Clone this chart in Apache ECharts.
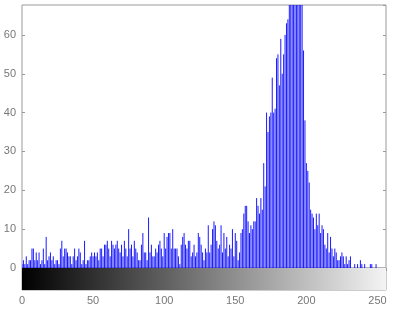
<!DOCTYPE html>
<html>
<head>
<meta charset="utf-8">
<script src="https://cdn.jsdelivr.net/npm/echarts@6/dist/echarts.min.js"></script>
<style>
  html, body { margin: 0; padding: 0; background: #fff; }
  #chart { width: 393px; height: 310px; }
</style>
</head>
<body>
<div id="chart"></div>
<script>
// pixel counts for gray levels 0..255
const counts = [
  1, 2, 1, 3, 1, 2, 2, 5, 5, 2, 4, 2, 4, 1, 2, 5,
  1, 8, 2, 3, 4, 2, 3, 1, 2, 2, 1, 5, 7, 3, 5, 5,
  4, 3, 3, 1, 3, 5, 2, 3, 5, 4, 1, 2, 7, 1, 2, 2,
  3, 4, 3, 4, 3, 4, 2, 5, 5, 3, 6, 6, 7, 5, 3, 7,
  6, 5, 6, 7, 5, 4, 6, 3, 7, 5, 3, 10, 5, 6, 3, 7,
  5, 4, 2, 2, 6, 9, 4, 4, 2, 13, 4, 6, 3, 3, 5, 4,
  6, 7, 5, 3, 9, 5, 8, 9, 9, 5, 10, 5, 5, 5, 3, 1,
  6, 8, 9, 6, 5, 7, 7, 3, 4, 6, 3, 4, 9, 8, 6, 4,
  2, 5, 4, 11, 4, 6, 10, 12, 11, 7, 5, 6, 11, 4, 9, 5,
  8, 3, 6, 5, 10, 3, 9, 7, 2, 4, 9, 10, 14, 16, 16, 12,
  9, 11, 10, 12, 12, 18, 16, 14, 18, 15, 27, 21, 40, 35, 39, 40,
  49, 40, 41, 54, 55, 47, 59, 50, 55, 60, 63, 64, 72, 80, 88, 76,
  95, 84, 78, 90, 74, 70, 56, 38, 27, 25, 22, 15, 14, 13, 10, 14,
  11, 14, 9, 11, 10, 6, 5, 9, 4, 8, 5, 3, 5, 4, 2, 2,
  3, 4, 3, 1, 3, 1, 2, 3, 0, 0, 1, 0, 1, 0, 2, 1,
  0, 1, 0, 0, 0, 1, 1, 0, 0, 1, 0, 0, 0, 0, 0, 0
];
const yTop = 67.7;   // histogram axis upper limit (tall bars are clipped)
const xMax = 256;

const chart = echarts.init(document.getElementById("chart"));

const labelStyle = { color: "#777", fontSize: 11, fontFamily: "Liberation Sans, Arial, sans-serif" };
const boxColor = "#9a9a9a";

const option = {
  animation: false,
  backgroundColor: "#fff",
  grid: [
    { left: 22, right: 7, top: 5, height: 263, show: true, borderColor: boxColor, borderWidth: 1, backgroundColor: "#fff" },
    { left: 22, right: 7, top: 268, height: 22, show: true, borderColor: boxColor, borderWidth: 1 },
  ],
  xAxis: [
    // top of histogram box, ticks only
    {
      gridIndex: 0, type: "value", min: 0, max: xMax, interval: 50, position: "top",
      axisLine: { show: false },
      axisTick: { show: true, inside: true, length: 3, lineStyle: { color: boxColor } },
      axisLabel: { show: false },
      splitLine: { show: false },
    },
    // colorbar axis with labels
    {
      gridIndex: 1, type: "value", min: 0, max: xMax, interval: 50, position: "bottom",
      axisLine: { show: false },
      axisTick: { show: true, inside: true, length: 3, lineStyle: { color: boxColor } },
      axisLabel: Object.assign({ margin: 5, showMaxLabel: false }, labelStyle),
      splitLine: { show: false },
    },
  ],
  yAxis: [
    {
      gridIndex: 0, type: "value", min: 0, max: yTop, interval: 10, position: "left",
      axisLine: { show: false },
      axisTick: { show: true, inside: true, length: 3, lineStyle: { color: boxColor } },
      axisLabel: Object.assign({ margin: 6, showMaxLabel: false }, labelStyle),
      splitLine: { show: false },
    },
    {
      gridIndex: 0, type: "value", min: 0, max: yTop, interval: 10, position: "right",
      axisLine: { show: false },
      axisTick: { show: true, inside: true, length: 3, lineStyle: { color: boxColor } },
      axisLabel: { show: false },
      splitLine: { show: false },
    },
    {
      gridIndex: 1, type: "value", min: 0, max: 1, show: false,
    },
  ],
  series: [
    {
      // stem lines, one per gray level
      type: "custom",
      xAxisIndex: 0,
      yAxisIndex: 0,
      clip: true,
      data: counts.map((v, i) => [i, v]),
      renderItem: (params, api) => {
        const base = api.coord([api.value(0), 0]);
        const tip = api.coord([api.value(0), api.value(1)]);
        return {
          type: "line",
          shape: { x1: base[0], y1: base[1], x2: tip[0], y2: tip[1] },
          style: { stroke: "#0000ff", lineWidth: 0.9 },
        };
      },
    },
    {
      // grayscale colorbar under the histogram
      type: "custom",
      xAxisIndex: 1,
      yAxisIndex: 2,
      data: [[0, 0]],
      renderItem: (params, api) => {
        const p0 = api.coord([0, 1]);
        const p1 = api.coord([xMax, 0]);
        return {
          type: "rect",
          shape: { x: p0[0], y: p0[1], width: p1[0] - p0[0], height: p1[1] - p0[1] },
          style: {
            fill: new echarts.graphic.LinearGradient(0, 0, 1, 0, [
              { offset: 0, color: "#000000" },
              { offset: 1, color: "#f4f4f4" },
            ]),
          },
        };
      },
    },
  ],
};
chart.setOption(option);
</script>
</body>
</html>
